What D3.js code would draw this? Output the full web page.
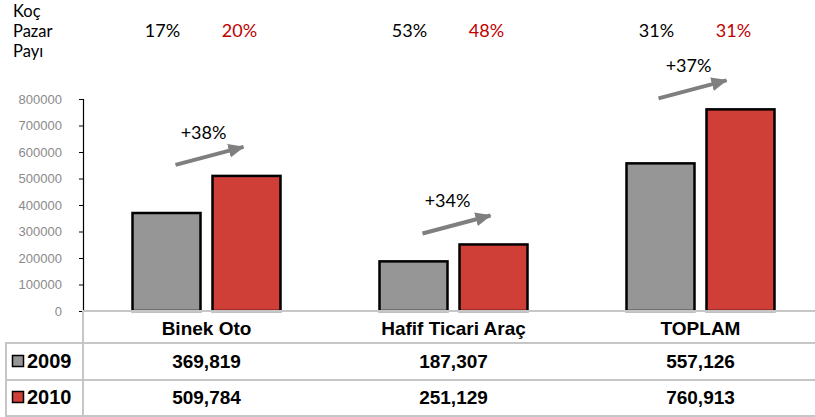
<!DOCTYPE html>
<html>
<head>
<meta charset="utf-8">
<script src="https://cdn.jsdelivr.net/npm/d3@7"></script>
<style>
  body { margin: 0; background: #fff; }
  svg { display: block; }
</style>
</head>
<body>
<div id="chart"></div>
<script>
var categories = ["Binek Oto", "Hafif Ticari Araç", "TOPLAM"];
var years = ["2009", "2010"];
var values2009 = [369819, 187307, 557126];
var values2010 = [509784, 251129, 760913];
var share2009 = ["17%", "53%", "31%"];
var share2010 = ["20%", "48%", "31%"];
var growth = ["+38%", "+34%", "+37%"];
var yTicks = [0, 100000, 200000, 300000, 400000, 500000, 600000, 700000, 800000];

var width = 815, height = 417;
var colors = {"2009": "#969696", "2010": "#cf3f38"};
var gridColor = "#c6c6c6";

var svg = d3.select("#chart")
            .append("svg")
                .attr("width", width)
                .attr("height", height);

var x0 = d3.scaleBand()
    .domain(categories)
    .range([83, 824])
    .padding(0);

var x1 = d3.scaleBand()
    .domain(years)
    .range([x0.bandwidth() / 2 - 74, x0.bandwidth() / 2 + 74])
    .paddingInner(0.15);

var y = d3.scaleLinear()
    .domain([0, 800000])
    .range([311, 99]);

var rows = categories.map(function(c, i) {
    return {cat: c, "2009": values2009[i], "2010": values2010[i]};
});

// y axis
var yAxis = svg.append("g")
    .attr("transform", "translate(83,0)")
    .call(d3.axisLeft(y).tickValues(yTicks).tickSize(4).tickPadding(17).tickFormat(d3.format("d")));
yAxis.select(".domain").attr("stroke", "#000").attr("stroke-width", 1.2);
yAxis.selectAll(".tick line").attr("stroke", "#000");
yAxis.selectAll("text")
    .attr("fill", "#8a8a8a")
    .style("font-family", "Liberation Sans, Arial, sans-serif")
    .style("font-size", "13px");

// bars
var groups = svg.selectAll(".grp")
    .data(rows)
    .enter().append("g")
        .attr("class", "grp")
        .attr("transform", function(d) { return "translate(" + x0(d.cat) + ",0)"; });

groups.selectAll("rect")
    .data(function(d) { return years.map(function(k) { return {key: k, value: d[k]}; }); })
    .enter().append("rect")
        .attr("x", function(d) { return x1(d.key); })
        .attr("y", function(d) { return y(d.value); })
        .attr("width", x1.bandwidth())
        .attr("height", function(d) { return y(0) - y(d.value); })
        .attr("fill", function(d) { return colors[d.key]; })
        .attr("stroke", "#000")
        .attr("stroke-width", 2.5);

// growth arrows
svg.append("defs").append("marker")
    .attr("id", "head")
    .attr("viewBox", "0 0 16 14")
    .attr("refX", 15)
    .attr("refY", 7)
    .attr("markerWidth", 16)
    .attr("markerHeight", 14)
    .attr("markerUnits", "userSpaceOnUse")
    .attr("orient", "auto")
  .append("path")
    .attr("d", "M0,0 L16,7 L0,14 Z")
    .attr("fill", "#7f7f7f");

var nudge = [0, 0, -11];
var labelShift = [-6, -9, -4];
rows.forEach(function(d, i) {
    var c = x0(d.cat) + x0.bandwidth() / 2 + nudge[i];
    var top = y(d["2010"]);
    var x1a = c - 31, y1a = top - 11, x2a = c + 37, y2a = top - 29;
    svg.append("line")
        .attr("x1", x1a).attr("y1", y1a)
        .attr("x2", x2a).attr("y2", y2a)
        .attr("stroke", "#7f7f7f")
        .attr("stroke-width", 4)
        .attr("marker-end", "url(#head)");
    svg.append("text")
        .attr("x", (x1a + x2a) / 2 + labelShift[i])
        .attr("y", y2a - 8)
        .attr("text-anchor", "middle")
        .style("font-family", "Lato, sans-serif")
        .style("font-size", "18px")
        .attr("fill", "#000")
        .text(growth[i]);
});

// market share header
["Koç", "Pazar", "Payı"].forEach(function(t, i) {
    svg.append("text")
        .attr("x", 13).attr("y", 17 + i * 20)
        .style("font-family", "Lato, sans-serif")
        .style("font-size", "16.5px")
        .attr("fill", "#000")
        .text(t);
});

rows.forEach(function(d, i) {
    var c = x0(d.cat) + x0.bandwidth() / 2;
    svg.append("text")
        .attr("x", c - 44).attr("y", 37)
        .attr("text-anchor", "middle")
        .style("font-family", "Lato, sans-serif")
        .style("font-size", "18px")
        .attr("fill", "#000")
        .text(share2009[i]);
    svg.append("text")
        .attr("x", c + 33).attr("y", 37)
        .attr("text-anchor", "middle")
        .style("font-family", "Lato, sans-serif")
        .style("font-size", "18px")
        .attr("fill", "#c00000")
        .text(share2010[i]);
});

// data table
var table = svg.append("g")
    .attr("stroke", gridColor)
    .attr("stroke-width", 2);
table.append("line").attr("x1", 83).attr("x2", width).attr("y1", 311).attr("y2", 311);
[343, 380, 416].forEach(function(ly) {
    table.append("line").attr("x1", 6).attr("x2", width).attr("y1", ly).attr("y2", ly);
});
table.append("line").attr("x1", 83).attr("x2", 83).attr("y1", 311).attr("y2", 417);
table.append("line").attr("x1", 6).attr("x2", 6).attr("y1", 342).attr("y2", 417);

var bold = function(sel) {
    return sel.style("font-family", "Liberation Sans, Arial, sans-serif")
        .style("font-size", "19px")
        .style("font-weight", "bold")
        .attr("fill", "#000");
};

categories.forEach(function(c) {
    bold(svg.append("text"))
        .attr("x", x0(c) + x0.bandwidth() / 2)
        .attr("y", 335)
        .attr("text-anchor", "middle")
        .text(c);
});

var fmt = d3.format(",");
[values2009, values2010].forEach(function(vals, r) {
    var ry = 368 + r * 36;
    svg.append("rect")
        .attr("x", 12.5).attr("y", ry - 12.5)
        .attr("width", 11).attr("height", 11)
        .attr("fill", colors[years[r]])
        .attr("stroke", "#000")
        .attr("stroke-width", 1.5);
    bold(svg.append("text"))
        .attr("x", 27).attr("y", ry)
        .style("font-size", "20px")
        .text(years[r]);
    vals.forEach(function(v, i) {
        bold(svg.append("text"))
            .attr("x", x0(categories[i]) + x0.bandwidth() / 2)
            .attr("y", ry)
            .attr("text-anchor", "middle")
            .text(fmt(v));
    });
});
</script>
</body>
</html>
